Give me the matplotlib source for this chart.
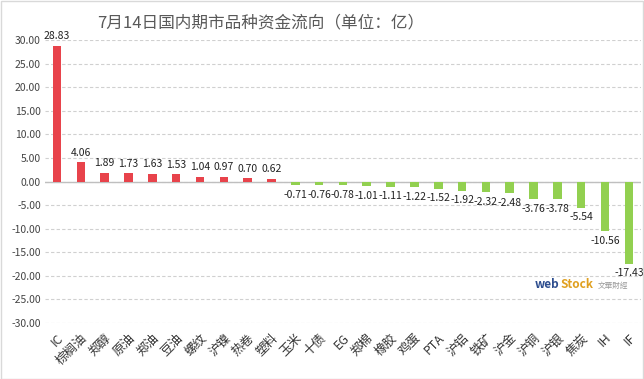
import numpy as np
import matplotlib
matplotlib.use('Agg')
import matplotlib.pyplot as plt

plt.rcParams['font.family'] = ['Noto Sans CJK SC', 'DejaVu Sans']

names = ['IC', '棕榈油', '郑醇', '原油', '郑油', '豆油', '螺纹', '沪镍', '热卷', '塑料',
         '玉米', '十债', 'EG', '郑棉', '橡胶', '鸡蛋', 'PTA', '沪铝', '铁矿', '沪金',
         '沪铜', '沪银', '焦炭', 'IH', 'IF']
values = [28.83, 4.06, 1.89, 1.73, 1.63, 1.53, 1.04, 0.97, 0.70, 0.62,
          -0.71, -0.76, -0.78, -1.01, -1.11, -1.22, -1.52, -1.92, -2.32, -2.48,
          -3.76, -3.78, -5.54, -10.56, -17.43]
yticks = np.arange(-30, 31, 5)

fig = plt.figure(figsize=(6.44, 3.79), dpi=100)
ax = fig.add_axes([0.07, 0.148, 0.925, 0.746])

x = np.arange(len(names))
colors = ['#E8434B' if v >= 0 else '#92D050' for v in values]
ax.bar(x, values, width=0.36, color=colors, zorder=3)

for i, v in enumerate(values):
    if v >= 0:
        ax.text(i, v + 1.0, '%.2f' % v, ha='center', va='bottom', fontsize=7.5, color='#222222')
    else:
        ax.text(i, v - 1.0, '%.2f' % v, ha='center', va='top', fontsize=7.5, color='#222222')

ax.set_xlim(-0.5, len(names) - 0.5)
ax.set_ylim(-30, 30)
ax.set_yticks(yticks)
ax.set_yticklabels(['%.2f' % t for t in yticks], fontsize=7.5, color='#444444')
ax.yaxis.grid(True, linestyle=(0, (3, 2)), color='#D0D0D0', linewidth=0.8, zorder=0)
ax.axhline(0, color='#BFBFBF', linewidth=1, zorder=2)
ax.tick_params(axis='both', length=0, pad=3)

ax.set_xticks(x)
ax.set_xticklabels(names, rotation=45, ha='right', rotation_mode='anchor',
                   fontsize=9, color='#333333')
ax.tick_params(axis='x', pad=6)

for s in ax.spines.values():
    s.set_visible(False)

fig.text(0.405, 0.94, '7月14日国内期市品种资金流向（单位：亿）', ha='center', va='center',
         fontsize=12, color='#595959')

# watermark
fig.text(0.831, 0.24, 'web', fontsize=8.5, color='#2E4E8F', fontweight='bold', ha='left')
fig.text(0.870, 0.24, 'Stock', fontsize=8.5, color='#E0A020', fontweight='bold', ha='left')
fig.text(0.952, 0.24, '文華財經', fontsize=5.5, color='#999999', ha='center')

border = plt.Rectangle((0.001, 0.001), 0.997, 0.996, transform=fig.transFigure,
                       fill=False, edgecolor='#D9D9D9', linewidth=1)
fig.patches.append(border)

fig.savefig('out.png', dpi=100)
